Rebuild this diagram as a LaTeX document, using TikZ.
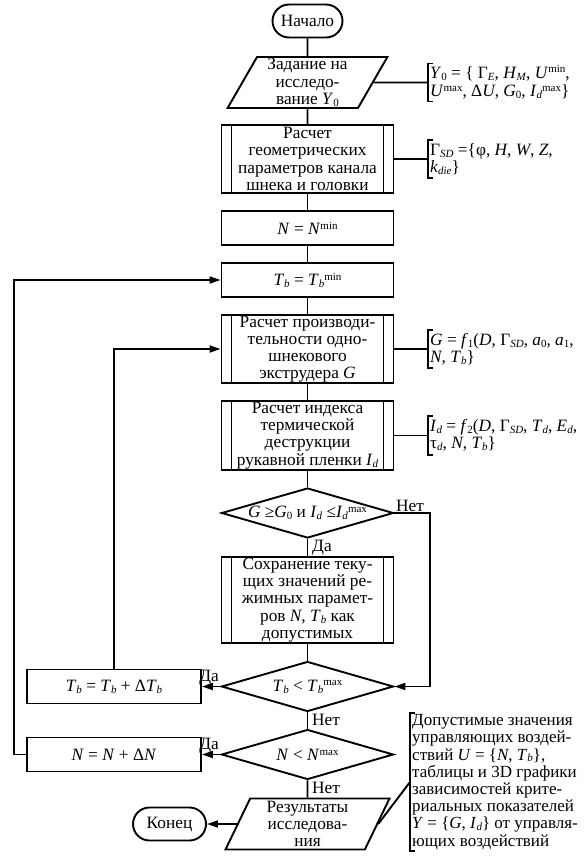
\documentclass[tikz,border=0pt]{standalone}
\usepackage{fontspec}
\setmainfont{Liberation Serif}
\usetikzlibrary{arrows.meta,shapes.geometric}
\definecolor{chartink}{HTML}{000000}
\newcommand{\vi}[1]{\textit{#1}}
\newcommand{\lo}[1]{\raisebox{-0.25ex}{\fontsize{11}{11}\selectfont #1}}
\newcommand{\hi}[1]{\raisebox{0.65ex}{\fontsize{11}{11}\selectfont #1}}

\begin{document}
\begin{tikzpicture}[
  x=1pt,
  y=-1pt,
  every node/.style={font=\fontsize{17.3}{17.2}\selectfont, chartink},
  line/.style={chartink, line width=1.9pt},
  flow/.style={line, -{Triangle[length=11pt,width=7pt]}},
  term/.style={draw=chartink, line width=1.9pt, fill=white, rounded corners=16.5pt,
               minimum width=70pt, minimum height=33pt, inner sep=0pt},
  io/.style={draw=chartink, line width=1.9pt, fill=white, trapezium,
             trapezium stretches=true, minimum height=51pt, inner sep=0pt,
             align=center},
  block/.style={draw=chartink, line width=1.9pt, fill=white, rectangle,
                minimum width=172pt, minimum height=34pt, inner sep=0pt,
                align=center},
  proc/.style={block, path picture={
      \draw[line] ([xshift=10pt]path picture bounding box.north west)
        -- ([xshift=10pt]path picture bounding box.south west);
      \draw[line] ([xshift=-10pt]path picture bounding box.north east)
        -- ([xshift=-10pt]path picture bounding box.south east);}},
  test/.style={draw=chartink, line width=1.9pt, fill=white, diamond, aspect=3.44,
               minimum width=172pt, minimum height=50pt,
               inner xsep=-14pt, inner ysep=-2pt},
  note/.style={anchor=west, align=left, inner xsep=2pt, inner ysep=3pt},
  tag/.style={inner sep=1.5pt}
]
  \useasboundingbox (0,0) rectangle (584,856);

  % ---- main column ------------------------------------------------------
  \node[term] (start) at (307.5,21) {Начало};
  \node[io, trapezium left angle=64, trapezium right angle=116,
        minimum width=160pt] (task) at (307.5,82.5)
    {Задание на\\исследо-\\вание \vi{Y}\lo{0}};
  \node[proc, minimum height=68pt] (geom) at (307.5,159)
    {Расчет\\геометрических\\параметров канала\\шнека и головки};
  \node[block] (nmin) at (307.5,228) {\vi{N} = \vi{N}\hi{min}};
  \node[block] (tmin) at (307.5,280)
    {\vi{T}\lo{\vi{b}} = \vi{T}\lo{\vi{b}}\hi{min}};
  \node[proc, minimum height=68pt] (capac) at (307.5,349)
    {Расчет производи-\\тельности одно-\\шнекового\\экструдера \vi{G}};
  \node[proc, minimum height=69pt] (destr) at (307.5,435.5)
    {Расчет индекса\\термической\\деструкции\\рукавной пленки \vi{I}\lo{\vi{d}}};
  \node[test] (chk) at (307.5,513)
    {\vi{G} ≥\vi{G}\lo{0} и \vi{I}\lo{\vi{d}} ≤\vi{I}\lo{\vi{d}}\hi{max}};
  \node[proc, minimum height=86pt] (keep) at (307.5,600)
    {Сохранение теку-\\щих значений ре-\\жимных парамет-\\ров \vi{N}, \vi{T}\lo{\vi{b}} как\\допустимых};
  \node[test] (tchk) at (307.5,686.5)
    {\vi{T}\lo{\vi{b}} < \vi{T}\lo{\vi{b}}\hi{max}};
  \node[test] (nchk) at (307.5,754.5) {\vi{N} < \vi{N}\hi{max}};
  \node[io, trapezium left angle=69, trapezium right angle=111,
        minimum width=164pt] (res) at (307.5,824)
    {Результаты\\исследова-\\ния};

  % ---- loop steps and end -----------------------------------------------
  \node[block, minimum width=174pt] (tinc) at (114,686.5)
    {\vi{T}\lo{\vi{b}} = \vi{T}\lo{\vi{b}} + Δ\vi{T}\lo{\vi{b}}};
  \node[block, minimum width=174pt] (ninc) at (114,754.5)
    {\vi{N} = \vi{N} + Δ\vi{N}};
  \node[term, minimum width=73pt] (stop) at (169.5,824) {Конец};

  % ---- notes --------------------------------------------------------------
  \node[note, inner ysep=2pt, font=\fontsize{17.3}{18.5}\selectfont] (ntask)
    at (428,82.5)
    {\vi{Y}\lo{0} = \{ Γ\lo{\vi{E}}, \vi{H}\lo{\vi{M}}, \vi{U}\hi{min},\\%
     \vi{U}\hi{max}, Δ\vi{U}, \vi{G}\lo{0}, \vi{I}\lo{\vi{d}}\hi{max}\}};
  \node[note] (ngeom) at (428,159)
    {Γ\lo{\vi{SD}} =\{φ, \vi{H}, \vi{W}, \vi{Z},\\\vi{k}\lo{\vi{die}}\}};
  \node[note] (ncap) at (428,349)
    {\vi{G} = \vi{f}\lo{1}(\vi{D}, Γ\lo{\vi{SD}}, \vi{a}\lo{0}, \vi{a}\lo{1},\\%
     \vi{N}, \vi{T}\lo{\vi{b}}\}};
  \node[note] (ndes) at (428,435.5)
    {\vi{I}\lo{\vi{d}} = \vi{f}\lo{2}(\vi{D}, Γ\lo{\vi{SD}}, \vi{T}\lo{\vi{d}}, \vi{E}\lo{\vi{d}},\\%
     τ\lo{\vi{d}}, \vi{N}, \vi{T}\lo{\vi{b}}\}};
  \node[note, inner ysep=1pt, font=\fontsize{17}{17.2}\selectfont] (nres) at (410,782)
    {Допустимые значения\\управляющих воздей-\\ствий \vi{U} = \{\vi{N}, \vi{T}\lo{\vi{b}}\},\\%
     таблицы и 3D графики\\зависимостей крите-\\риальных показателей\\%
     \vi{Y} = \{\vi{G}, \vi{I}\lo{\vi{d}}\} от управля-\\ющих воздействий};
  \foreach \n in {ntask, ngeom, ncap, ndes, nres}
    \draw[line] ([xshift=5pt]\n.north west) -- (\n.north west)
      -- (\n.south west) -- ([xshift=5pt]\n.south west);

  % ---- connectors ---------------------------------------------------------
  \foreach \a/\b in {start/task, task/geom, geom/nmin, nmin/tmin, tmin/capac,
                     capac/destr, destr/chk, chk/keep, keep/tchk, tchk/nchk,
                     nchk/res}
    \draw[line] (\a) -- (\b);
  \draw[line] (task.east) -- (ntask.west);
  \draw[line] (geom.east) -- (ngeom.west);
  \draw[line] (capac.east) -- (ncap.west);
  \draw[line] (destr.east) -- (ndes.west);
  \draw[line] (res.east) -- (nres.west);

  % loops back
  \draw[flow] (chk.east) -- ++(35.5,0) |- (tchk.east);
  \draw[flow] (tchk) -- (tinc);
  \draw[flow] (tinc) |- (capac);
  \draw[flow] (nchk) -- (ninc);
  \draw[flow] (ninc.west) -- ++(-12,0) |- (tmin);
  \draw[flow] (res) -- (stop);

  % ---- branch labels ------------------------------------------------------
  \node[tag, anchor=south west] (no1) at (chk.east) {Нет};
  \node[tag, anchor=north west] (yes1) at ([xshift=3pt]chk.south) {Да};
  \node[tag, anchor=south east] (yes2) at (tchk.west) {Да};
  \node[tag, anchor=north west] (no2) at ([xshift=3pt]tchk.south) {Нет};
  \node[tag, anchor=south east] (yes3) at (nchk.west) {Да};
  \node[tag, anchor=north west] (no3) at ([xshift=3pt]nchk.south) {Нет};
\end{tikzpicture}
\end{document}
